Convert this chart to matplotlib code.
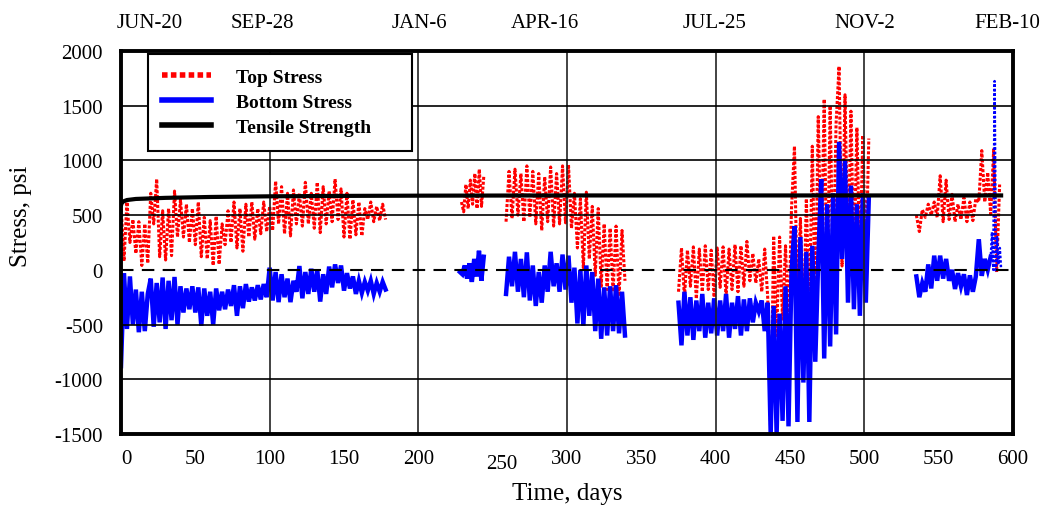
import numpy as np
import matplotlib
matplotlib.use('Agg')
import matplotlib.pyplot as plt
import matplotlib.transforms as mtransforms

plt.rcParams['font.family'] = 'Liberation Serif'
plt.rcParams['axes.unicode_minus'] = False

# ---- data, values in psi ----
# each segment: (first day, last day) and the measured zig-zag of daily highs/lows
top1_span = (0, 178)
top1 = [600, 80, 620, 250, 460, 150, 440, 40, 420, 60, 700, 420, 830, 120, 540, 90,
        560, 130, 720, 300, 640, 300, 600, 250, 560, 230, 620, 120, 480, 100, 450, 40,
        490, 50, 420, 230, 540, 250, 620, 200, 560, 170, 600, 300, 620, 280, 560, 330,
        620, 350, 580, 360, 810, 420, 760, 330, 700, 310, 730, 420, 700, 400, 800, 420,
        700, 380, 800, 340, 760, 420, 720, 440, 830, 460, 740, 300, 700, 280, 640, 320,
        620, 310, 560, 460, 620, 440, 580, 450, 600, 460]
bot1_span = (0, 178)
bot1 = [-880, -30, -540, -60, -500, -180, -570, -200, -560, -220, -80, -520, -120, -480,
        -70, -540, -100, -460, -65, -500, -150, -390, -170, -360, -150, -390, -160, -510,
        -170, -420, -200, -500, -170, -370, -200, -360, -180, -330, -140, -420, -150, -350,
        -130, -290, -160, -280, -140, -270, -130, -250, 20, -280, -20, -295, -40, -250,
        -80, -295, -100, -200, 35, -260, -20, -220, 10, -200, 0, -290, -40, -220, 30,
        -160, 50, -120, 40, -190, -30, -170, -60, -220, -100, -210, -110, -190, -100,
        -220, -120, -200, -110, -180]

top2_span = (229, 244)
top2 = [620, 530, 780, 560, 820, 600, 880, 560, 920, 580, 850]
bot2_span = (228, 244)
bot2 = [-20, -40, 40, -80, 60, -110, 100, -60, 175, -100, 120]

top3_span = (259, 339)
top3 = [440, 900, 470, 920, 500, 880, 440, 950, 480, 900, 420, 880, 360, 850, 440, 940,
        400, 880, 420, 950, 430, 960, 380, 700, 200, 650, 20, 710, 100, 580, -50, 560,
        -150, 420, -180, 380, -200, 400, -240, 360, -100]
bot3_span = (259, 339)
bot3 = [-220, 120, -150, 165, -200, 100, -250, 160, -280, 40, -330, -20, -300, 40, -200,
        165, -150, 60, -200, 140, -180, 130, -300, 20, -490, 0, -510, 40, -420, -20, -560,
        -80, -630, -160, -600, -150, -560, -140, -580, -200, -600]

top4_span = (375, 503)
top4 = [-200, 200, -250, 180, -150, 210, -265, 190, -200, 220, -180, 180, -250, 200,
        -160, 210, -240, 190, -180, 230, -200, 220, -150, 260, -100, 150, -120, 100, -200,
        190, -250, -1500, 310, -600, 300, -450, 220, -570, 555, 1130, -330, 470, -540, 650,
        -420, 1130, -360, 1400, 80, 1560, -280, 1500, -80, 1340, 1860, 35, 1600, 100, 1450,
        0, 1300, 40, 1230, 0, 1200]
bot4_span = (375, 503)
bot4 = [-300, -690, -200, -600, -250, -640, -280, -560, -220, -620, -300, -580, -260,
        -600, -280, -560, -220, -620, -300, -540, -240, -600, -270, -560, -260, -480, -300,
        -380, -280, -560, -300, -1500, -330, -1500, -400, -1380, -150, -1430, -20, 400,
        -1390, 300, -1030, 165, -1390, 220, -840, 100, 830, -810, 600, -700, 700, -590,
        1170, 100, 1000, -300, 770, -360, 600, -420, 700, -300, 650]

top5_span = (535, 591)
top5 = [500, 350, 550, 480, 600, 500, 620, 480, 860, 440, 820, 460, 690, 440, 600, 460,
        660, 440, 620, 450, 650, 620, 1090, 620, 890, 510, 1100, -20, 780]
bot5_span = (535, 585)
bot5 = [-60, -250, -120, -200, 50, -170, 130, -100, 130, -80, 100, -100, 0, -175, -30,
        -150, -40, -230, -50, -200, -60, 280, -55, 100, 0, 120]
bot5_tail_span = (585, 592)
bot5_tail = [100, 345, 0, 1725, -20, 300, 50, 200, 0]

tensile_days = [0, 0.5, 1.5, 4, 10, 30, 60, 100, 150, 200, 300, 400, 500, 592]
tensile = [590, 610, 625, 638, 648, 658, 666, 672, 676, 678, 680, 680, 680, 680]

x_ticks = list(range(0, 601, 50))
top_labels = ['JUN-20', 'SEP-28', 'JAN-6', 'APR-16', 'JUL-25', 'NOV-2', 'FEB-10']
top_label_pos = [19.5, 95, 201, 285, 399.5, 500, 596.5]

tops = [(top1_span, top1), (top2_span, top2), (top3_span, top3),
        (top4_span, top4), (top5_span, top5)]
bots = [(bot1_span, bot1), (bot2_span, bot2), (bot3_span, bot3),
        (bot4_span, bot4), (bot5_span, bot5)]

fig = plt.figure(figsize=(10.47, 5.06), dpi=100)
ax = fig.add_axes([121 / 1047, 71 / 506, 892 / 1047, 383 / 506])

red_style = dict(color='red', lw=2.2, linestyle=(0, (1, 0.6)), dash_capstyle='butt')
for i, (span, vals) in enumerate(tops):
    d = np.linspace(span[0], span[1], len(vals))
    ax.plot(d, vals, zorder=3, label='Top Stress' if i == 0 else None, **red_style)

for i, (span, vals) in enumerate(bots):
    d = np.linspace(span[0], span[1], len(vals))
    ax.plot(d, vals, color='blue', lw=3.2, zorder=4, solid_joinstyle='miter',
            label='Bottom Stress' if i == 0 else None)
d = np.linspace(bot5_tail_span[0], bot5_tail_span[1], len(bot5_tail))
ax.plot(d, bot5_tail, color='blue', lw=1.8, linestyle=(0, (1, 0.8)), zorder=4)

ax.plot(tensile_days, tensile, color='black', lw=3.0, zorder=6, label='Tensile Strength')

# grid (drawn over the data, as in the original)
for xv in range(100, 600, 100):
    ax.axvline(xv, color='#222222', lw=1.2, zorder=5)
for yv in [1500, 1000, 500, -500, -1000]:
    ax.axhline(yv, color='black', lw=1.2, zorder=5)
ax.axhline(0, color='black', lw=1.5, linestyle=(0, (6, 4)), zorder=6)

ax.set_xlim(0, 600)
ax.set_ylim(-1500, 2000)
ax.set_yticks(range(-1500, 2001, 500))
ax.set_xticks(x_ticks)
ax.tick_params(axis='both', length=0, labelsize=15)
ax.tick_params(axis='y', pad=13)
ax.tick_params(axis='x', pad=11)
for s in ax.spines.values():
    s.set_linewidth(2.8)
    s.set_zorder(7)

# small nudges of two bottom labels as in the original
for lab in ax.get_xticklabels():
    if lab.get_text() == '0':
        lab.set_transform(lab.get_transform() +
                          mtransforms.ScaledTranslation(5 / 100, 0, fig.dpi_scale_trans))
    if lab.get_text() == '250':
        lab.set_transform(lab.get_transform() +
                          mtransforms.ScaledTranslation(9 / 100, -5 / 100, fig.dpi_scale_trans))

ax.set_xlabel('Time, days', fontsize=18, labelpad=6)
ax.set_ylabel('Stress, psi', fontsize=18)
ax.yaxis.set_label_coords(-0.100, 0.572)

ax2 = ax.twiny()
ax2.set_xlim(0, 600)
ax2.set_xticks(top_label_pos)
ax2.set_xticklabels(top_labels)
ax2.tick_params(axis='x', length=0, labelsize=15, pad=14)
for s in ax2.spines.values():
    s.set_visible(False)

leg = ax.legend(loc='upper left', bbox_to_anchor=(0.030, 0.992, 0.296, 0.0),
                mode='expand', fancybox=False, framealpha=1, edgecolor='black',
                prop={'weight': 'bold', 'size': 14}, handlelength=2.5,
                handletextpad=1.3, labelspacing=0.38, borderpad=0.75,
                borderaxespad=0)
leg.get_frame().set_linewidth(1.5)
leg.set_zorder(8)
for h in leg.get_lines():
    h.set_linewidth(4)

fig.savefig('out.png', dpi=100)
